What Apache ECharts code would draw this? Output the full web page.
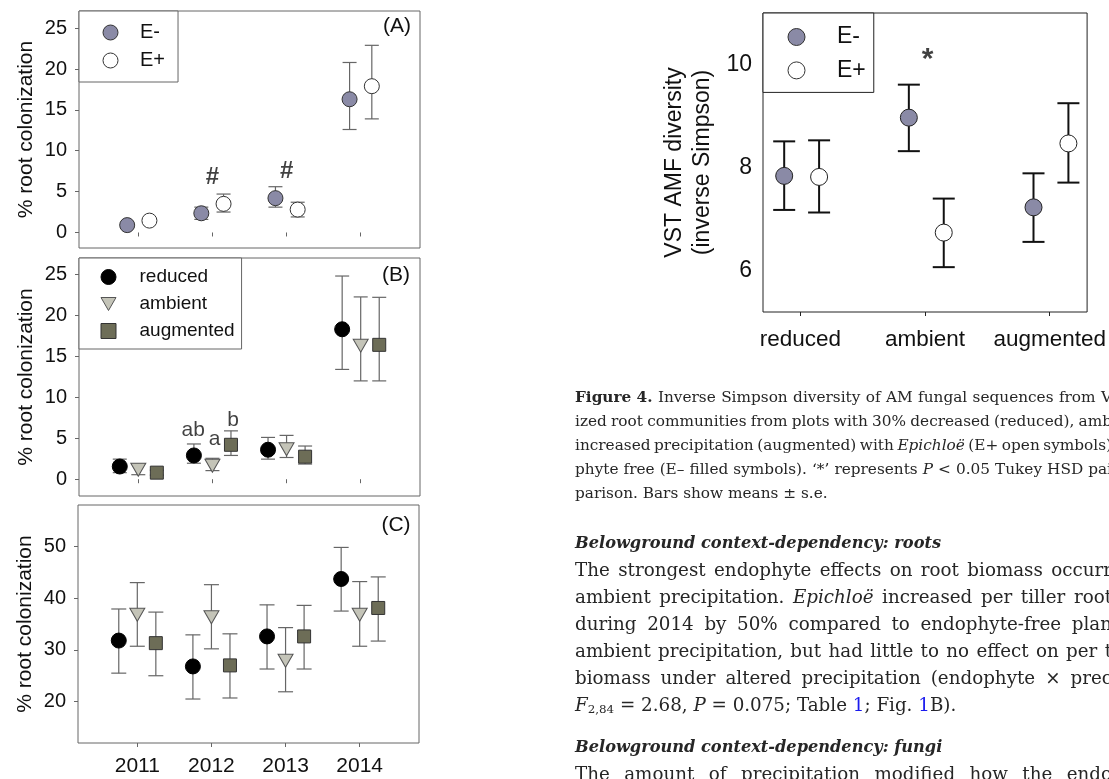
<!DOCTYPE html>
<html><head><meta charset="utf-8">
<script src="https://cdn.jsdelivr.net/npm/echarts@6/dist/echarts.min.js"></script>
<style>html,body{margin:0;padding:0;background:#fff}#c{width:1109px;height:779px}</style>
</head><body><div id="c"></div>
<script>
// ---------- data ----------
const years = ['2011', '2012', '2013', '2014'];
const precipLevels = ['reduced', 'ambient', 'augmented'];

// Panel A: root colonization by endophyte status
const aEminusMean = [0.9, 2.35, 4.2, 16.3];
const aEminusLow  = [0.6, 1.6, 3.1, 12.6];
const aEminusHigh = [1.2, 3.1, 5.6, 20.8];
const aEplusMean  = [1.45, 3.5, 2.8, 17.9];
const aEplusLow   = [1.2, 2.5, 1.9, 13.9];
const aEplusHigh  = [1.7, 4.7, 3.7, 22.9];

// Panel B: root colonization by precipitation
const bReducedMean = [1.55, 2.9, 3.6, 18.3];
const bReducedLow  = [0.8, 1.95, 2.45, 13.4];
const bReducedHigh = [2.45, 4.3, 5.1, 24.8];
const bAmbientMean = [1.15, 1.65, 3.65, 16.3];
const bAmbientLow  = [0.55, 1.05, 2.65, 12.0];
const bAmbientHigh = [1.85, 2.55, 5.35, 22.25];
const bAugmentedMean = [0.8, 4.2, 2.75, 16.4];
const bAugmentedLow  = [0.5, 2.9, 1.85, 12.0];
const bAugmentedHigh = [1.1, 5.9, 4.05, 22.2];

// Panel C
const cReducedMean = [31.8, 26.8, 32.6, 43.7];
const cReducedLow  = [25.5, 20.5, 26.3, 37.5];
const cReducedHigh = [37.9, 32.9, 38.7, 49.8];
const cAmbientMean = [36.8, 36.3, 27.9, 36.8];
const cAmbientLow  = [30.7, 30.2, 21.9, 30.7];
const cAmbientHigh = [43.0, 42.6, 34.3, 43.2];
const cAugmentedMean = [31.3, 27.0, 32.6, 38.1];
const cAugmentedLow  = [25.0, 20.7, 26.3, 31.7];
const cAugmentedHigh = [37.3, 33.1, 38.6, 44.1];

// Figure 4: VST AMF diversity
const vEminusMean = [7.84, 8.97, 7.23];
const vEminusLow  = [7.18, 8.32, 6.56];
const vEminusHigh = [8.51, 9.61, 7.89];
const vEplusMean  = [7.82, 6.74, 8.47];
const vEplusLow   = [7.13, 6.07, 7.71];
const vEplusHigh  = [8.53, 7.40, 9.25];

// tick labels
const ticksAB = [0, 5, 10, 15, 20, 25];
const ticksC = [20, 30, 40, 50];
const ticksV = [6, 8, 10];

// annotations (x = group index, y = value)
const annotA = [[2, 6.7, '#'], [3, 7.5, '#']];
const annotB = [[1.74, 6.0, 'ab'], [2.03, 4.85, 'a'], [2.28, 7.25, 'b']];
const annotV = [[2.02, 10.1, '*']];

// page text (runs: n normal, i italic, b bold, s subscript, l link)
const captionLines = [
  {runs: [['b', 'Figure 4.'], ['n', ' Inverse Simpson diversity of AM fungal sequences from V']], tail: [['n', 'ST normal-']], justify: true},
  {runs: [['n', 'ized root communities from plots with 30% decreased (reduced), amb']], tail: [['n', 'ient']], justify: true},
  {runs: [['n', 'increased precipitation (augmented) with '], ['i', 'Epichlo\u00eb'], ['n', ' (E+ open symbols)']], tail: [['n', ' or endo-']], justify: true},
  {runs: [['n', 'phyte free (E\u2013 filled symbols). \u2018*\u2019 represents '], ['i', 'P'], ['n', ' < 0.05 Tukey HSD pai']], tail: [['n', 'rwise com-']], justify: true},
  {runs: [['n', 'parison. Bars show means \u00b1 s.e.']], tail: [], justify: false}
];
const headingRoots = 'Belowground context-dependency: roots';
const bodyLines = [
  {runs: [['n', 'The strongest endophyte effects on root biomass occurr']], tail: [['n', 'ed under']], justify: true},
  {runs: [['n', 'ambient precipitation. '], ['i', 'Epichlo\u00eb'], ['n', ' increased per tiller root']], tail: [['n', ' biomass']], justify: true},
  {runs: [['n', 'during 2014 by 50% compared to endophyte-free plan']], tail: [['n', 'ts under']], justify: true},
  {runs: [['n', 'ambient precipitation, but had little to no effect on per t']], tail: [['n', 'iller root']], justify: true},
  {runs: [['n', 'biomass under altered precipitation (endophyte \u00d7 prec']], tail: [['n', 'ipitation:']], justify: true},
  {runs: [['i', 'F'], ['s', '2,84'], ['n', ' = 2.68, '], ['i', 'P'], ['n', ' = 0.075; Table '], ['l', '1'], ['n', '; Fig. '], ['l', '1'], ['n', 'B).']], tail: [], justify: false}
];
const headingFungi = 'Belowground context-dependency: fungi';
const fungiLines = [
  {runs: [['n', 'The amount of precipitation modified how the endo']], tail: [['n', 'phyte']], justify: true}
];

// ---------- chart ----------
const FONT = '"Liberation Sans", Arial, sans-serif';
const SERIF = '"DejaVu Serif", serif';
const TXT = '#111';
const GRAY = '#666';
const INK = '#262626';
const COL_EMINUS = '#8a8aa6';
const COL_AMB = '#c4c4b8';
const COL_AUG = '#6d6d57';

const chart = echarts.init(document.getElementById('c'), null, {renderer: 'canvas'});

const idx = (arr) => arr.map((_, i) => i + 1);

function xAxisPanel(gi, cats, min, max, showLabels, color, margin, fontSize) {
  return {
    type: 'value', gridIndex: gi, min: min, max: max,
    axisLine: {show: false}, splitLine: {show: false},
    axisTick: {show: true, customValues: idx(cats), length: 4, lineStyle: {color: color}},
    axisLabel: {show: showLabels, customValues: idx(cats), margin: margin,
      formatter: (v) => cats[Math.round(v) - 1] || '',
      fontFamily: FONT, fontSize: fontSize, color: TXT}
  };
}
function yAxisPanel(gi, min, max, ticks, name, opt) {
  return {
    type: 'value', gridIndex: gi, min: min, max: max,
    axisLine: {show: false}, splitLine: {show: false},
    axisTick: {show: opt.tick, customValues: ticks, length: 4, lineStyle: {color: opt.color}},
    axisLabel: {customValues: ticks, margin: opt.margin, fontFamily: FONT, fontSize: opt.labelSize, color: TXT},
    name: name, nameLocation: 'middle', nameGap: opt.nameGap,
    nameTextStyle: {fontFamily: FONT, fontSize: opt.nameSize, color: TXT, lineHeight: opt.lineHeight}
  };
}

function pts(means, offset) { return means.map((v, i) => [i + 1 + offset, v]); }
function errs(lo, hi, offset) { return lo.map((l, i) => [i + 1 + offset, l, hi[i]]); }

function errSeries(data, gi, color, width, capW) {
  return {
    type: 'custom', xAxisIndex: gi, yAxisIndex: gi, silent: true, z: 2,
    encode: {x: 0, y: [1, 2]}, data: data,
    renderItem: function (params, api) {
      const x = api.value(0);
      const p1 = api.coord([x, api.value(1)]);
      const p2 = api.coord([x, api.value(2)]);
      const h = capW / 2;
      const st = {stroke: color, lineWidth: width};
      return {type: 'group', children: [
        {type: 'line', shape: {x1: p1[0], y1: p1[1], x2: p2[0], y2: p2[1]}, style: st},
        {type: 'line', shape: {x1: p1[0] - h, y1: p1[1], x2: p1[0] + h, y2: p1[1]}, style: st},
        {type: 'line', shape: {x1: p2[0] - h, y1: p2[1], x2: p2[0] + h, y2: p2[1]}, style: st}
      ]};
    }
  };
}
function scat(name, data, gi, symbol, size, fill, border, rotate) {
  return {
    type: 'scatter', name: name, xAxisIndex: gi, yAxisIndex: gi, z: 3, silent: true,
    symbol: symbol, symbolSize: size, symbolRotate: rotate || 0,
    itemStyle: {color: fill, borderColor: border, borderWidth: 1, opacity: 1},
    data: data
  };
}
function annot(data, gi, fontSize, bold) {
  return {
    type: 'scatter', xAxisIndex: gi, yAxisIndex: gi, z: 4, silent: true,
    symbol: 'circle', symbolSize: 1, itemStyle: {color: 'rgba(0,0,0,0)'},
    label: {show: true, position: 'inside', formatter: (p) => p.data[2],
      fontFamily: FONT, fontSize: fontSize, fontWeight: bold ? 'bold' : 'normal', color: TXT},
    data: data
  };
}

const series = [
  // Panel A
  errSeries(errs(aEminusLow, aEminusHigh, -0.15), 0, GRAY, 1.2, 14),
  errSeries(errs(aEplusLow, aEplusHigh, 0.15), 0, GRAY, 1.2, 14),
  scat('E-', pts(aEminusMean, -0.15), 0, 'circle', 15, COL_EMINUS, '#333'),
  scat('E+', pts(aEplusMean, 0.15), 0, 'circle', 15, '#fff', '#333'),
  annot(annotA, 0, 24, true),
  // Panel B
  errSeries(errs(bReducedLow, bReducedHigh, -0.25), 1, GRAY, 1.2, 14),
  errSeries(errs(bAmbientLow, bAmbientHigh, 0), 1, GRAY, 1.2, 14),
  errSeries(errs(bAugmentedLow, bAugmentedHigh, 0.25), 1, GRAY, 1.2, 14),
  scat('reduced', pts(bReducedMean, -0.25), 1, 'circle', 15, '#000', '#000'),
  scat('ambient', pts(bAmbientMean, 0), 1, 'triangle', [15, 13], COL_AMB, '#555', 180),
  scat('augmented', pts(bAugmentedMean, 0.25), 1, 'rect', 13, COL_AUG, '#333'),
  annot(annotB, 1, 21, false),
  // Panel C
  errSeries(errs(cReducedLow, cReducedHigh, -0.25), 2, GRAY, 1.2, 15),
  errSeries(errs(cAmbientLow, cAmbientHigh, 0), 2, GRAY, 1.2, 15),
  errSeries(errs(cAugmentedLow, cAugmentedHigh, 0.25), 2, GRAY, 1.2, 15),
  scat('reduced', pts(cReducedMean, -0.25), 2, 'circle', 15, '#000', '#000'),
  scat('ambient', pts(cAmbientMean, 0), 2, 'triangle', [15, 13], COL_AMB, '#555', 180),
  scat('augmented', pts(cAugmentedMean, 0.25), 2, 'rect', 13, COL_AUG, '#333'),
  // Figure 4
  errSeries(errs(vEminusLow, vEminusHigh, -0.13), 3, '#111', 2, 22),
  errSeries(errs(vEplusLow, vEplusHigh, 0.15), 3, '#111', 2, 22),
  scat('E-', pts(vEminusMean, -0.13), 3, 'circle', 17, COL_EMINUS, '#222'),
  scat('E+', pts(vEplusMean, 0.15), 3, 'circle', 17, '#fff', '#222'),
  annot(annotV, 3, 30, true)
];

const gridBase = {show: true, borderColor: GRAY, borderWidth: 1, backgroundColor: '#fff'};

function legendCfg(names, left, top, pad, size, gap, fontSize, textPad, border) {
  return {
    data: names, orient: 'vertical', left: left, top: top, padding: pad,
    itemWidth: size, itemHeight: size, itemGap: gap, selectedMode: false,
    borderColor: border, borderWidth: 1, backgroundColor: '#fff',
    itemStyle: {borderWidth: 1},
    textStyle: {fontFamily: FONT, fontSize: fontSize, color: TXT, padding: [0, 0, 0, textPad]}
  };
}
const legendB = precipLevels.map((n) => n === 'ambient' ? {name: n, icon: 'path://M0,0L15,0L7.5,13Z'} : n);

// ---- page text with justification ----
const mctx = document.createElement('canvas').getContext('2d');
function fontOf(kind, size) {
  if (kind === 'i') return 'italic ' + size + 'px ' + SERIF;
  if (kind === 'b') return 'bold ' + size + 'px ' + SERIF;
  if (kind === 's') return (size * 0.65) + 'px ' + SERIF;
  return size + 'px ' + SERIF;
}
function buildLine(line, y, size, rightEdge) {
  let natural = 0, spaces = 0;
  line.runs.forEach(([k, t]) => {
    mctx.font = fontOf(k, size);
    natural += mctx.measureText(t).width;
    if (k === 'n') spaces += (t.match(/ /g) || []).length;
  });
  mctx.font = fontOf('n', size);
  const baseSp = mctx.measureText(' ').width;
  const left = 575;
  const spW = (line.justify && spaces) ? Math.max(1, baseSp + (rightEdge - left - natural) / spaces) : baseSp;
  const text = line.runs.concat(line.tail).map(([k, t]) => {
    if (k === 'n') return line.justify ? t.split(' ').join('{sp| }') : t;
    return '{' + k + '|' + t + '}';
  }).join('');
  const rich = {
    b: {fontFamily: SERIF, fontSize: size, fontWeight: 'bold', fill: INK},
    i: {fontFamily: SERIF, fontSize: size, fontStyle: 'italic', fill: INK},
    l: {fontFamily: SERIF, fontSize: size, fill: '#1a1aee'},
    s: {fontFamily: SERIF, fontSize: size * 0.65, fill: INK, verticalAlign: 'bottom', padding: [size * 0.4, 0, 0, 0]},
    sp: {fontFamily: SERIF, fontSize: size, width: spW}
  };
  return {type: 'text', x: left, y: y, silent: true,
    style: {text: text, fontFamily: SERIF, fontSize: size, fill: INK, align: 'left', verticalAlign: 'middle', rich: rich}};
}
function headLine(text, y) {
  return {type: 'text', x: 575, y: y, silent: true,
    style: {text: text, fontFamily: SERIF, fontSize: 16.2, fontStyle: 'italic', fontWeight: 'bold',
      fill: INK, align: 'left', verticalAlign: 'middle'}};
}
function panelLabel(text, x, y) {
  return {type: 'text', x: x, y: y, silent: true,
    style: {text: text, fontFamily: FONT, fontSize: 21, fill: TXT, align: 'center', verticalAlign: 'middle'}};
}

const CAP_SIZE = 15.3, BODY_SIZE = 18.3, EDGE = 1112;
const textGraphics = [];
captionLines.forEach((l, k) => textGraphics.push(buildLine(l, 398 + k * 24, CAP_SIZE, EDGE)));
textGraphics.push(headLine(headingRoots, 544));
bodyLines.forEach((l, k) => textGraphics.push(buildLine(l, 571 + k * 27, BODY_SIZE, EDGE)));
textGraphics.push(headLine(headingFungi, 748));
fungiLines.forEach((l, k) => textGraphics.push(buildLine(l, 775 + k * 27, BODY_SIZE, EDGE)));

const option = {
  animation: false,
  backgroundColor: '#fff',
  grid: [
    Object.assign({left: 79, top: 11, width: 341, height: 237}, gridBase),
    Object.assign({left: 79, top: 258, width: 341, height: 238}, gridBase),
    Object.assign({left: 78, top: 505, width: 341, height: 238}, gridBase),
    Object.assign({}, gridBase, {left: 763, top: 13, width: 325, height: 299, borderColor: '#222'})
  ],
  xAxis: [
    xAxisPanel(0, years, 0.2, 4.8, false, GRAY, 13, 21),
    xAxisPanel(1, years, 0.2, 4.8, false, GRAY, 13, 21),
    xAxisPanel(2, years, 0.2, 4.8, true, GRAY, 13, 21),
    xAxisPanel(3, precipLevels, 0.7, 3.3, true, '#222', 16, 22.5)
  ],
  yAxis: [
    yAxisPanel(0, -1.9, 27.1, ticksAB, '% root colonization', {tick: true, color: GRAY, margin: 12, labelSize: 20, nameGap: 42, nameSize: 21}),
    yAxisPanel(1, -2.05, 27, ticksAB, '% root colonization', {tick: true, color: GRAY, margin: 12, labelSize: 20, nameGap: 42, nameSize: 21}),
    yAxisPanel(2, 12, 58, ticksC, '% root colonization', {tick: true, color: GRAY, margin: 12, labelSize: 20, nameGap: 42, nameSize: 21}),
    yAxisPanel(3, 5.2, 11.0, ticksV, 'VST AMF diversity\n(inverse Simpson)', {tick: false, color: '#222', margin: 11, labelSize: 23, nameGap: 46, nameSize: 23, lineHeight: 28})
  ],
  legend: [
    legendCfg(['E-', 'E+'], 79, 11, [11.5, 13, 11.5, 23.5], 15, 8, 20, 17, GRAY),
    legendCfg(legendB, 79, 258, [9.5, 7, 8.5, 21.5], 15, 8, 19, 18.5, GRAY),
    legendCfg(['E-', 'E+'], 763, 13, [12.5, 8, 10.5, 24.5], 17, 10.4, 23, 27, '#222')
  ],
  series: series,
  graphic: [
    panelLabel('(A)', 397, 26),
    panelLabel('(B)', 396, 275),
    panelLabel('(C)', 396, 525)
  ].concat(textGraphics)
};
chart.setOption(option);
</script>
</body></html>
